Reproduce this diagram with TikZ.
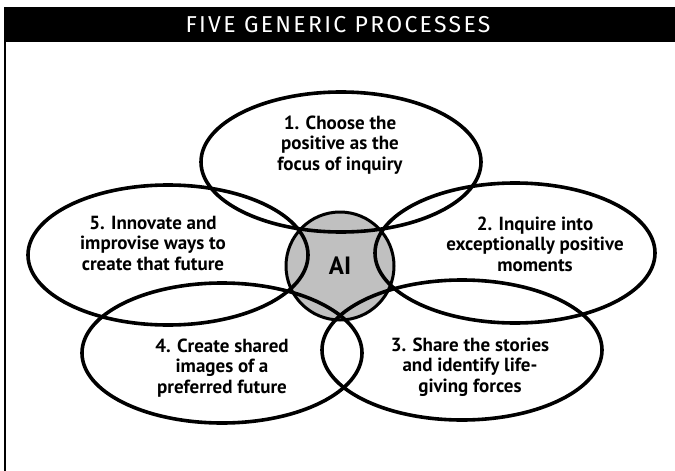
\documentclass[tikz,border=0pt]{standalone}
\usepackage{fontspec}
\usepackage{tikz}
\usetikzlibrary{shapes.geometric}
\newfontfamily\bodyfont{PT Sans}
\newfontfamily\titlefont[LetterSpace=10]{Fira Sans}
\definecolor{aigray}{RGB}{192,192,192}

\begin{document}
\begin{tikzpicture}[
            x=1pt, y=-1pt,
            petal/.style={draw, ellipse, line width=3.6pt, minimum width=280pt, minimum height=140pt, inner sep=0pt},
            hub/.style={draw, circle, fill=aigray, line width=3pt, minimum size=108pt, inner sep=0pt},
            petaltext/.style={align=center, font=\bodyfont\bfseries\fontsize{19}{20.5}\selectfont}
        ]
        \useasboundingbox (0,0) rectangle (675,471);

        % frame and title bar
        \fill[black] (4,7) rectangle (675,42);
        \draw[line width=2pt] (5,7) -- (5,471);
        \node[text=white, font=\titlefont\fontsize{23}{26}\selectfont] (title) at (338,25) {FIVE GENERIC PROCESSES};

        \node[hub] (ai) at (340,266) {};

        % five processes
        \node[petal] (e1) at (341,162) {};
        \node[petal] (e2) at (515,253) {};
        \node[petal] (e3) at (462,350) {};
        \node[petal] (e4) at (222,353) {};
        \node[petal] (e5) at (168,255) {};

        \node[petaltext] (t1) at (340,145) {1. Choose the\\positive as the\\focus of inquiry};
        \node[petaltext] (t2) at (535,244) {2. Inquire into\\exceptionally positive\\moments};
        \node[petaltext] (t3) at (470,367) {3. Share the stories\\and identify life-\\giving forces};
        \node[petaltext] (t4) at (222,368) {4. Create shared\\images of a\\preferred future};
        \node[petaltext] (t5) at (153,243) {5. Innovate and\\improvise ways to\\create that future};

        \node[font=\bodyfont\bfseries\fontsize{25}{28}\selectfont] (ailabel) at (ai) {AI};

\end{tikzpicture}
\end{document}
